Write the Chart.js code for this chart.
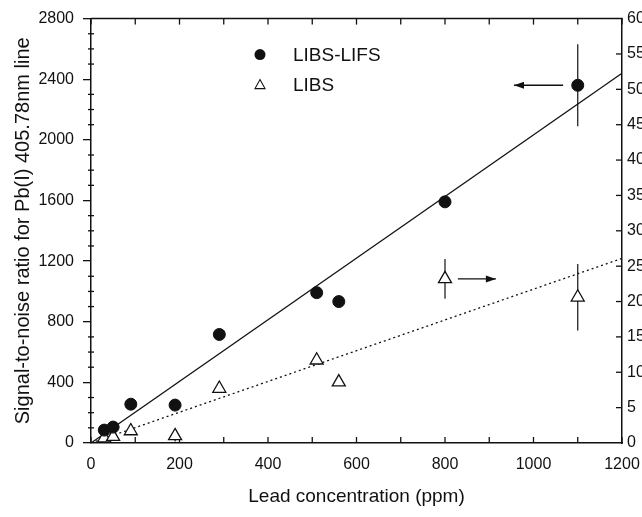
<!DOCTYPE html>
<html>
<head>
<meta charset="utf-8">
<script src="https://cdn.jsdelivr.net/npm/chart.js@4.4.0/dist/chart.umd.min.js"></script>
<style>
html, body { margin: 0; padding: 0; background: #fff; overflow: hidden; }
#wrap { width: 642px; height: 517px; overflow: hidden; }
</style>
</head>
<body>
<div id="wrap"><canvas id="chart" width="664" height="517"></canvas></div>
<script>
// lead concentration (ppm) for each sample
const concentration = [30, 50, 90, 190, 290, 510, 560, 800, 1100];
// LIBS-LIFS S/N (left axis) and LIBS S/N (right axis)
const snrLifs = [85, 105, 256, 250, 716, 992, 933, 1591, 2360];
const snrLibs = [0.7, 0.9, 1.7, 1.0, 7.7, 11.7, 8.6, 23.2, 20.6];
// error bars (half length), 0 = none drawn
const errLifs = [0, 0, 0, 0, 0, 30, 0, 0, 270];
const errLibs = [0, 0, 0, 0.8, 0, 0, 0, 2.8, 4.7];
// linear fits
const fitX = [0, 1200];
const fitLifs = [0, 2439];
const fitLibs = [0, 26.1];
// axis arrows: [fromX, toX, y]
const arrowLifs = [1067, 956, 2360];
const arrowLibs = [829, 915, 23.2];

const ink = '#111';
const font = 'Arial, "Liberation Sans", Helvetica, sans-serif';

function seg(ctx, x1, y1, x2, y2) {
    ctx.beginPath();
    ctx.moveTo(x1, y1);
    ctx.lineTo(x2, y2);
    ctx.stroke();
}

function arrow(ctx, x1, x2, y) {
    seg(ctx, x1, y, x2, y);
    const d = x2 > x1 ? -1 : 1;
    ctx.beginPath();
    ctx.moveTo(x2, y);
    ctx.lineTo(x2 + d * 10, y - 3.5);
    ctx.lineTo(x2 + d * 10, y + 3.5);
    ctx.closePath();
    ctx.fill();
}

const extras = {
    id: 'extras',
    beforeDatasetsDraw(chart) {
        const ctx = chart.ctx;
        const a = chart.chartArea;
        const x = chart.scales.x, y = chart.scales.y, y2 = chart.scales.y2;
        ctx.save();
        ctx.strokeStyle = ink;
        ctx.fillStyle = ink;
        ctx.lineWidth = 1.5;
        seg(ctx, a.left, a.top, a.right + 0.75, a.top);
        ctx.lineWidth = 1.3;
        for (let v = 0; v <= 1200; v += 100) {
            const px = x.getPixelForValue(v);
            seg(ctx, px, a.bottom, px, a.bottom - 6);
            seg(ctx, px, a.top, px, a.top + 6);
        }
        for (let v = 100; v < 2800; v += 100) {
            if (v % 400 === 0) continue;
            const py = y.getPixelForValue(v);
            seg(ctx, a.left - 3, py, a.left + 3, py);
        }
        for (let v = 5; v < 60; v += 5) {
            const py = y2.getPixelForValue(v);
            seg(ctx, a.right - 6, py, a.right, py);
        }
        // error bars
        ctx.lineWidth = 1.2;
        concentration.forEach((c, i) => {
            const px = x.getPixelForValue(c);
            if (errLifs[i]) seg(ctx, px, y.getPixelForValue(snrLifs[i] - errLifs[i]), px, y.getPixelForValue(snrLifs[i] + errLifs[i]));
            if (errLibs[i]) seg(ctx, px, y2.getPixelForValue(snrLibs[i] - errLibs[i]), px, y2.getPixelForValue(snrLibs[i] + errLibs[i]));
        });
        // arrows pointing at each series' axis
        ctx.lineWidth = 1.4;
        arrow(ctx, x.getPixelForValue(arrowLifs[0]), x.getPixelForValue(arrowLifs[1]), y.getPixelForValue(arrowLifs[2]));
        arrow(ctx, x.getPixelForValue(arrowLibs[0]), x.getPixelForValue(arrowLibs[1]), y2.getPixelForValue(arrowLibs[2]));
        ctx.restore();
    },
    afterDraw(chart) {
        // legend inside the plot
        const ctx = chart.ctx;
        const a = chart.chartArea;
        const mx = a.left + 169, tx = a.left + 202;
        const y1 = a.top + 36, y2 = a.top + 66;
        ctx.save();
        ctx.fillStyle = ink;
        ctx.strokeStyle = ink;
        ctx.beginPath();
        ctx.arc(mx, y1, 5.5, 0, Math.PI * 2);
        ctx.fill();
        ctx.lineWidth = 1.1;
        ctx.beginPath();
        ctx.moveTo(mx, y2 - 5);
        ctx.lineTo(mx + 5, y2 + 4);
        ctx.lineTo(mx - 5, y2 + 4);
        ctx.closePath();
        ctx.stroke();
        ctx.font = '19px ' + font;
        ctx.textBaseline = 'middle';
        ctx.fillText('LIBS-LIFS', tx, y1 + 1);
        ctx.fillText('LIBS', tx, y2 + 1);
        ctx.restore();
    }
};

new Chart(document.getElementById('chart'), {
    type: 'scatter',
    data: {
        datasets: [{
            label: 'LIBS-LIFS',
            data: concentration.map((c, i) => ({ x: c, y: snrLifs[i] })),
            yAxisID: 'y',
            pointStyle: 'circle',
            pointRadius: 6,
            backgroundColor: ink,
            borderColor: ink,
            order: 1
        }, {
            label: 'LIBS',
            data: concentration.map((c, i) => ({ x: c, y: snrLibs[i] })),
            yAxisID: 'y2',
            pointStyle: 'triangle',
            pointRadius: 7.5,
            borderWidth: 1.3,
            backgroundColor: '#fff',
            borderColor: ink,
            order: 1
        }, {
            label: 'fit LIBS-LIFS',
            data: fitX.map((c, i) => ({ x: c, y: fitLifs[i] })),
            yAxisID: 'y',
            showLine: true,
            pointRadius: 0,
            borderColor: ink,
            borderWidth: 1.3,
            order: 2
        }, {
            label: 'fit LIBS',
            data: fitX.map((c, i) => ({ x: c, y: fitLibs[i] })),
            yAxisID: 'y2',
            showLine: true,
            pointRadius: 0,
            borderColor: ink,
            borderWidth: 1.3,
            borderDash: [2, 3],
            order: 2
        }]
    },
    options: {
        responsive: false,
        animation: false,
        devicePixelRatio: 1,
        layout: { padding: { top: 17, left: 0, right: 0, bottom: 0 } },
        plugins: { legend: { display: false }, tooltip: { enabled: false } },
        scales: {
            x: {
                type: 'linear', min: 0, max: 1200,
                grid: { drawOnChartArea: false, drawTicks: false },
                border: { color: ink, width: 1.5 },
                ticks: {
                    stepSize: 100, autoSkip: false, maxRotation: 0, padding: 12,
                    color: ink, font: { family: font, size: 16 },
                    callback: v => (v % 200 === 0 ? String(v) : '')
                },
                title: {
                    display: true, text: 'Lead concentration (ppm)', color: ink,
                    font: { family: font, size: 19 }, padding: { top: 0, bottom: 9 }
                },
                afterFit: s => { s.height = 74; }
            },
            y: {
                position: 'left', min: 0, max: 2800,
                grid: { drawOnChartArea: false, drawTicks: true, tickLength: 8, color: ink, lineWidth: 1.3 },
                border: { color: ink, width: 1.5 },
                ticks: { stepSize: 400, padding: 9, color: ink, font: { family: font, size: 16 }, callback: v => String(v) },
                title: {
                    display: true, text: 'Signal-to-noise ratio for Pb(I) 405.78nm line', color: ink,
                    font: { family: font, size: 20 }, padding: { top: 11, bottom: 0 }
                },
                afterFit: s => { s.width = 91; }
            },
            y2: {
                position: 'right', min: 0, max: 60,
                grid: { drawOnChartArea: false, drawTicks: false },
                border: { color: ink, width: 1.5 },
                ticks: { stepSize: 5, padding: 5, color: ink, font: { family: font, size: 16 }, callback: v => String(v) },
                afterFit: s => { s.width = 42; }
            }
        }
    },
    plugins: [extras]
});
</script>
</body>
</html>
